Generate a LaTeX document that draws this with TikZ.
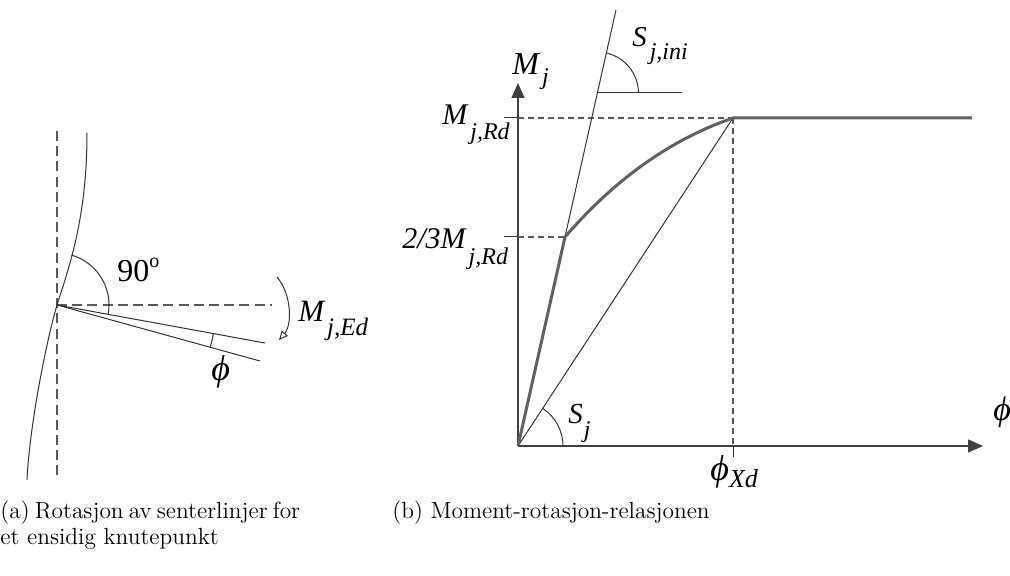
\documentclass[tikz,border=0pt]{standalone}
\usepackage{fontspec}
\usepackage{graphicx}
\newfontfamily\tnr{Liberation Serif}
\usetikzlibrary{arrows.meta}
\colorlet{linec}{black!80}
\colorlet{dashc}{black!65}
\colorlet{curvec}{black!62}
\tikzset{
  thinline/.style={line width=0.5pt, draw=linec},
  axisline/.style={line width=0.65pt, draw=black!75},
  dashline/.style={line width=0.55pt, draw=dashc, dash pattern=on 3pt off 2pt},
  bigdash/.style={line width=0.65pt, draw=dashc, dash pattern=on 5pt off 2.6pt},
  thickcurve/.style={line width=1.5pt, draw=curvec},
  lab/.style={inner sep=0pt, font=\tnr\itshape, anchor=base west},
  captext/.style={inner sep=0pt, anchor=base west, font=\rmfamily\fontsize{11.7}{13}\selectfont},
  axtip/.style={-{Triangle[length=7.5pt,width=6.5pt]}}
}
\newcommand\phisym[1]{{\tnr\itshape\fontsize{#1}{#1}\selectfont ϕ}}
\begin{document}
\begin{tikzpicture}[x=0.5pt,y=-0.5pt]
\useasboundingbox (0,0) rectangle (1010,576);

% ---------- (a) left figure ----------
\coordinate (J) at (57,305);
\coordinate (colTop) at (87,133);
\coordinate (colBot) at (27,480);
\coordinate (vdTop) at (57,131);
\coordinate (vdBot) at (57,478);
\coordinate (hdEnd) at (272,305);
\coordinate (b1) at (265,343);
\coordinate (b2) at (260,361);
\coordinate (ms) at (277,277);
\coordinate (me) at (279,340);

\draw[bigdash] (vdTop) -- (vdBot);
\draw[bigdash] (J) -- (hdEnd);
\draw[thinline] (colTop) .. controls (87,220) and (68,270) .. (J)
                 .. controls (48,335) and (30,420) .. (colBot);
\draw[thinline] (J) -- (b1);
\draw[thinline] (J) -- (b2);
\draw[thinline] ([shift={(-10.35:26pt)}]J) arc[start angle=-10.35, end angle=74, radius=26pt];
\draw[thinline] ([shift={(-10.35:79.5pt)}]J) arc[start angle=-10.35, end angle=-15.42, radius=79.5pt];
\draw[thinline, -{Triangle[open,length=4.5pt,width=4pt]}] (ms) .. controls (292,295) and (292,325) .. (me);

\node[lab, font=\tnr\upshape] (ninety) at (117,282) {\fontsize{16}{16}\selectfont 90\raisebox{7pt}{\fontsize{10}{10}\selectfont o}};
\node[lab] (mjed) at (298,322) {\fontsize{15.5}{15.5}\selectfont M\kern1.5pt\raisebox{-7pt}{\fontsize{12.5}{12.5}\selectfont j,Ed}};
\node[lab] (phia) at (211,381) {\phisym{18}};

% ---------- (b) right figure ----------
\coordinate (O) at (518,446);
\coordinate (yTip) at (518,83);
\coordinate (xTip) at (983,446);
\coordinate (A) at (565,237);
\coordinate (R) at (733,118);
\coordinate (Rend) at (972,118);
\coordinate (kTop) at (616,10);
\coordinate (hS) at (597.4,93);
\coordinate (hSe) at (682,93);
\coordinate (t1) at (504,118);
\coordinate (t1b) at (518,118);
\coordinate (t2) at (504,237);
\coordinate (t2b) at (518,237);
\coordinate (xt) at (733,457);
\coordinate (xtb) at (733,446);

\draw[axisline, axtip] (O) -- (yTip);
\draw[axisline, axtip] (O) -- (xTip);
\draw[thinline] (t1) -- (t1b);
\draw[thinline] (t2) -- (t2b);
\draw[dashline] (t1b) -- (R);
\draw[dashline] (t2b) -- (A);
\draw[dashline] (R) -- (xtb);
\draw[thinline] (xtb) -- (xt);
\draw[thinline] (O) -- (kTop);
\draw[thinline] (O) -- (R);
\draw[thinline] (hS) -- (hSe);
\draw[thinline] ([shift={(0:20.5pt)}]hS) arc[start angle=0, end angle=77.3, radius=20.5pt];
\draw[thinline] ([shift={(0:22.5pt)}]O) arc[start angle=0, end angle=56.7, radius=22.5pt];
\draw[thickcurve] (O) -- (A) .. controls (615,179) and (671,139.3) .. (R) -- (Rend);

\node[lab] (mj) at (512,75) {\fontsize{16}{16}\selectfont M\kern1.5pt\raisebox{-5pt}{\fontsize{12}{12}\selectfont j}};
\node[lab] (mjrd) at (442,125) {\fontsize{15}{15}\selectfont M\kern1.5pt\raisebox{-7.5pt}{\fontsize{12}{12}\selectfont j,Rd}};
\node[lab] (mjrd23) at (402,249) {\fontsize{15}{15}\selectfont 2/3M\kern1.5pt\raisebox{-8pt}{\fontsize{12}{12}\selectfont j,Rd}};
\node[lab] (sjini) at (632,47) {\fontsize{14.4}{14.4}\selectfont S\kern1.5pt\raisebox{-6.5pt}{\fontsize{12}{12}\selectfont j,ini}};
\node[lab] (sj) at (568,423) {\fontsize{14.5}{14.5}\selectfont S\kern0.5pt\raisebox{-7pt}{\fontsize{12}{12}\selectfont j}};
\node[lab] (phixd) at (710,480) {\phisym{18}\raisebox{-3.5pt}{\fontsize{13}{13}\selectfont Xd}};
\node[lab] (phib) at (993,421) {\phisym{17}};

% ---------- captions ----------
\node[captext] (capa1) at (0,518) {\makebox[143.5pt][s]{(a) Rotasjon av senterlinjer for}};
\node[captext] (capa2) at (0,544) {et ensidig knutepunkt};
\node[captext] (capb) at (392,518) {(b) Moment-rotasjon-relasjonen};
\end{tikzpicture}
\end{document}
